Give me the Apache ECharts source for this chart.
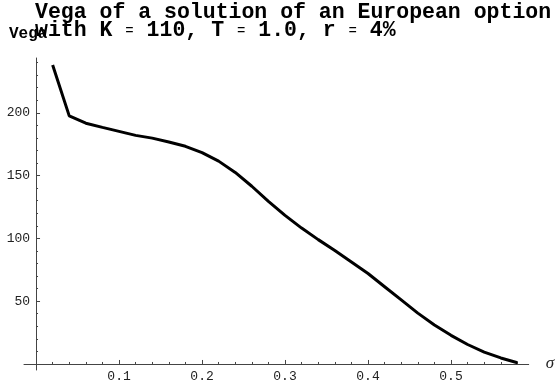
<!DOCTYPE html>
<html>
<head>
<meta charset="utf-8">
<script src="https://cdn.jsdelivr.net/npm/echarts@6/dist/echarts.min.js"></script>
<style>
  html, body { margin: 0; padding: 0; background: #fff; }
  #chart { width: 557px; height: 381px; }
</style>
</head>
<body>
<div id="chart"></div>
<script>
// Volatility grid (sigma) and the vega computed at each point
const sigma = [0.02, 0.04, 0.06, 0.08, 0.10, 0.12, 0.14, 0.16, 0.18, 0.20,
               0.22, 0.24, 0.26, 0.28, 0.30, 0.32, 0.34, 0.36, 0.38, 0.40,
               0.42, 0.44, 0.46, 0.48, 0.50, 0.52, 0.54, 0.56, 0.58];
const vega = [238, 197.5, 191.7, 188.4, 185.2, 182, 179.8, 176.7, 173.3, 168.3,
              161.5, 152.5, 141.5, 129.5, 118.3, 108.2, 99, 90.3, 81.2, 72,
              61.5, 51, 40.5, 31, 22.8, 15.5, 9.5, 4.8, 1];

// Axis tick positions
const xMajorTicks = [0.1, 0.2, 0.3, 0.4, 0.5];
const xMinorTicks = [0.02, 0.04, 0.06, 0.08, 0.12, 0.14, 0.16, 0.18, 0.22, 0.24, 0.26, 0.28,
                     0.32, 0.34, 0.36, 0.38, 0.42, 0.44, 0.46, 0.48, 0.52, 0.54, 0.56, 0.58];
const yMajorTicks = [50, 100, 150, 200];
const yMinorTicks = [10, 20, 30, 40, 60, 70, 80, 90, 110, 120, 130, 140,
                     160, 170, 180, 190, 210, 220, 230, 240];

const MONO = '"Liberation Mono", "Courier New", monospace';
const AXIS_COLOR = '#444';

// Plot range reaches slightly past zero on both axes so the axes cross at the origin
const X_MIN = -0.0145, X_MAX = 0.5936;
const Y_MIN = -4.8, Y_MAX = 243.6;

const GRID = { left: 24, top: 58, width: 504.7, height: 312 };
// Shift the axes inward from the grid edges onto the zero lines
const X_AXIS_OFFSET = -GRID.height * (0 - Y_MIN) / (Y_MAX - Y_MIN);
const Y_AXIS_OFFSET = -GRID.width * (0 - X_MIN) / (X_MAX - X_MIN);

const chart = echarts.init(document.getElementById('chart'), null, { renderer: 'canvas' });

const baseX = {
  type: 'value', min: X_MIN, max: X_MAX, gridIndex: 0,
  position: 'bottom', offset: X_AXIS_OFFSET,
  splitLine: { show: false },
  axisLine: { onZero: false, lineStyle: { color: AXIS_COLOR, width: 1 } }
};
const baseY = {
  type: 'value', min: Y_MIN, max: Y_MAX, gridIndex: 0,
  position: 'left', offset: Y_AXIS_OFFSET,
  splitLine: { show: false },
  axisLine: { onZero: false, lineStyle: { color: AXIS_COLOR, width: 1 } }
};

chart.setOption({
  animation: false,
  backgroundColor: '#fff',
  title: {
    text: 'Vega of a solution of an European option\nwith K {eq|=} 110, T {eq|=} 1.0, r {eq|=} 4%',
    left: 35,
    top: 4,
    padding: 0,
    textStyle: {
      fontFamily: MONO,
      fontWeight: 'bold',
      fontSize: 21.5,
      lineHeight: 18,
      color: '#000',
      rich: {
        eq: { fontFamily: MONO, fontWeight: 'normal', fontSize: 14, color: '#000', lineHeight: 18 }
      }
    }
  },
  grid: Object.assign({ containLabel: false, outerBoundsMode: 'none' }, GRID),
  xAxis: [
    Object.assign({}, baseX, {
      name: 'σ',
      nameLocation: 'end',
      nameGap: 17,
      nameTextStyle: { fontFamily: '"Liberation Serif", serif', fontStyle: 'italic', fontSize: 17, color: '#222', verticalAlign: 'middle' },
      axisTick: { show: true, inside: true, length: 4, customValues: xMajorTicks, lineStyle: { color: AXIS_COLOR } },
      axisLabel: {
        show: true, customValues: xMajorTicks, margin: 6,
        fontFamily: MONO, fontSize: 13, color: '#222',
        formatter: v => v.toFixed(1)
      }
    }),
    Object.assign({}, baseX, {
      axisLine: { show: false, onZero: false },
      axisTick: { show: true, inside: true, length: 2, customValues: xMinorTicks, lineStyle: { color: AXIS_COLOR } },
      axisLabel: { show: false }
    })
  ],
  yAxis: [
    Object.assign({}, baseY, {
      axisTick: { show: true, inside: true, length: 4, customValues: yMajorTicks, lineStyle: { color: AXIS_COLOR } },
      axisLabel: {
        show: true, customValues: yMajorTicks, margin: 6,
        fontFamily: MONO, fontSize: 13, color: '#222',
        formatter: v => String(Math.round(v))
      }
    }),
    Object.assign({}, baseY, {
      axisLine: { show: false, onZero: false },
      axisTick: { show: true, inside: true, length: 2, customValues: yMinorTicks, lineStyle: { color: AXIS_COLOR } },
      axisLabel: { show: false }
    })
  ],
  graphic: [{
    type: 'text',
    left: 9,
    top: 26,
    style: { text: 'Vega', font: 'bold 16px ' + MONO, fill: '#000' }
  }],
  series: [{
    type: 'line',
    xAxisIndex: 0,
    yAxisIndex: 0,
    data: sigma.map((s, i) => [s, vega[i]]),
    showSymbol: false,
    smooth: false,
    lineStyle: { color: '#000', width: 3 },
    z: 5
  }]
});
</script>
</body>
</html>
